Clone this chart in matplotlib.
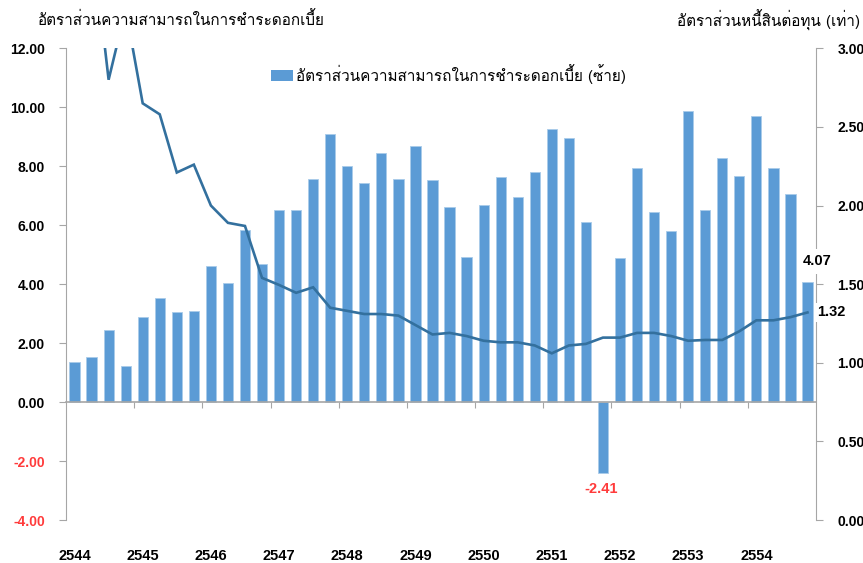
import matplotlib
matplotlib.use('Agg')
import matplotlib.pyplot as plt
import matplotlib.transforms as mtrans
from matplotlib import font_manager
from matplotlib.ft2font import FT2Font
from matplotlib.patches import Patch
import numpy as np

# ---------------- data ----------------
years = [str(y) for y in range(2544, 2555)]
icr = [1.36, 1.54, 2.46, 1.24,
       2.89, 3.53, 3.07, 3.10,
       4.61, 4.05, 5.83, 4.70,
       6.53, 6.50, 7.55, 9.11,
       8.01, 7.43, 8.45, 7.55,
       8.68, 7.52, 6.63, 4.91,
       6.69, 7.64, 6.94, 7.82,
       9.26, 8.97, 6.10, -2.41,
       4.88, 7.93, 6.44, 5.80,
       9.87, 6.53, 8.29, 7.66,
       9.72, 7.95, 7.05, 4.07]
de = [3.60, 3.74, 2.80, 3.25,
      2.65, 2.58, 2.21, 2.26,
      2.00, 1.89, 1.87, 1.54,
      1.495, 1.445, 1.48, 1.35,
      1.33, 1.31, 1.31, 1.30,
      1.24, 1.18, 1.19, 1.17,
      1.14, 1.13, 1.13, 1.11,
      1.06, 1.11, 1.12, 1.16,
      1.16, 1.19, 1.19, 1.17,
      1.14, 1.145, 1.145, 1.20,
      1.27, 1.27, 1.29, 1.32]
left_ticks = [-4, -2, 0, 2, 4, 6, 8, 10, 12]
right_ticks = [0, 0.5, 1.0, 1.5, 2.0, 2.5, 3.0]
left_title = 'อัตราส่วนความสามารถในการชำระดอกเบี้ย'
right_title = 'อัตราส่วนหนี้สินต่อทุน (เท่า)'
legend_label = 'อัตราส่วนความสามารถในการชำระดอกเบี้ย (ซ้าย)'

# ---------------- fonts ----------------
def thai_fonts():
    pref = ['Tahoma', 'Loma', 'Noto Sans Thai', 'Noto Sans Thai UI', 'Garuda',
            'Umpush', 'Kinnari', 'Norasi', 'Sawasdee', 'Waree', 'Laksaman']
    found = []
    for f in font_manager.fontManager.ttflist:
        try:
            ft = FT2Font(f.fname)
            if ft.get_char_index(0x0E2D) and f.name not in found:
                found.append(f.name)
        except Exception:
            pass
    found.sort(key=lambda n: pref.index(n) if n in pref else len(pref))
    return found

tf = thai_fonts()
THAI = tf[:1] + ['DejaVu Sans']
NUM = ['Liberation Sans', 'DejaVu Sans']

BAR = '#5B9BD5'
LINE = '#33709E'
SPINE = '#A6A6A6'
RED = '#FF3B3B'

fig = plt.figure(figsize=(8.63, 5.63), dpi=100)
W, H = 863, 563
ax = fig.add_axes([66 / W, 1 - 520 / H, (816 - 66) / W, (520 - 48.3) / H])
ax2 = ax.twinx()

x = np.arange(len(icr))
ax.bar(x, icr, width=0.6, color=BAR, edgecolor='#A9CBEA', linewidth=0.6, zorder=2)
ax.set_xlim(-0.5, len(icr) - 0.5)
ax.set_ylim(-4, 12)
ax2.set_ylim(0, 3)
ax2.plot(x, de, color=LINE, lw=1.9, solid_joinstyle='miter', zorder=3)

# spines
for a in (ax, ax2):
    a.spines['top'].set_visible(False)
    a.patch.set_visible(False)
ax.spines['right'].set_visible(False)
ax2.spines['left'].set_visible(False)
ax2.spines['bottom'].set_visible(False)
ax.spines['left'].set_color(SPINE)
ax2.spines['right'].set_color(SPINE)
ax.spines['bottom'].set_position(('data', 0))
ax.spines['bottom'].set_color(SPINE)
ax.spines['bottom'].set_linewidth(1.2)
ax.set_zorder(ax2.get_zorder() - 1)
ax2.patch.set_visible(False)

# left ticks
ax.set_yticks(left_ticks)
ax.set_yticklabels([f'{v:.2f}' for v in left_ticks])
ax.tick_params(axis='y', direction='out', length=4.8, width=0.8, color=SPINE, pad=10.5)
for lbl, v in zip(ax.get_yticklabels(), left_ticks):
    lbl.set_family(NUM)
    lbl.set_fontweight('bold')
    lbl.set_fontsize(10)
    lbl.set_color(RED if v < 0 else 'black')

# right ticks
ax2.set_yticks(right_ticks)
ax2.set_yticklabels([f'{v:.2f}' for v in right_ticks])
ax2.tick_params(axis='y', direction='out', length=4.8, width=0.8, color=SPINE, pad=10.5)
for lbl in ax2.get_yticklabels():
    lbl.set_family(NUM)
    lbl.set_fontweight('bold')
    lbl.set_fontsize(10)

# x ticks at year boundaries
ax.set_xticks([4 * k - 0.5 for k in range(1, len(years))])
ax.set_xticklabels([])
ax.tick_params(axis='x', direction='out', length=4.5, width=0.8, color=SPINE)
trans = mtrans.blended_transform_factory(ax.transData, ax.transAxes)
for k, yr in enumerate(years):
    ax.text(4 * k, -0.077, yr, transform=trans, ha='center', va='center',
            family=NUM, fontweight='bold', fontsize=10.5, color='black')

# annotations from data (drawn in ax2 so they sit above the right spine)
neg_i = int(np.argmin(icr))
ax.text(neg_i - 0.1, icr[neg_i] - 0.55, f'{icr[neg_i]:.2f}', ha='center', va='center',
        color=RED, family=NUM, fontweight='bold', fontsize=10.5, zorder=5)
ax2.text(len(icr) - 1 + 0.55, icr[-1] + 0.7, f'{icr[-1]:.2f}', transform=ax.transData,
         ha='center', va='center', color='black', family=NUM, fontweight='bold',
         fontsize=10.5, zorder=5, clip_on=False,
         bbox=dict(facecolor='white', edgecolor='none', pad=4))
ax2.annotate(f'{de[-1]:.2f}', xy=(len(de) - 1, de[-1]), xytext=(7, 0),
             textcoords='offset points', ha='left', va='center',
             color='black', family=NUM, fontweight='bold', fontsize=10.5, zorder=5,
             bbox=dict(facecolor='white', edgecolor='none', pad=2), annotation_clip=False)

# titles
fig.text(38 / W, 1 - 20 / H, left_title, ha='left', va='center', family=THAI,
         fontsize=11, color='black')
fig.text(860 / W, 1 - 20 / H, right_title, ha='right', va='center', family=THAI,
         fontsize=11, color='black')

# legend
leg = fig.legend(handles=[Patch(facecolor=BAR, edgecolor='none')], labels=[legend_label],
                 loc='center left', bbox_to_anchor=(271 / W, 1 - 74 / H), frameon=False,
                 borderpad=0, borderaxespad=0, handlelength=1.45, handleheight=0.7,
                 handletextpad=0.2, prop={'family': THAI, 'size': 11})

fig.savefig('out.png', dpi=100)
